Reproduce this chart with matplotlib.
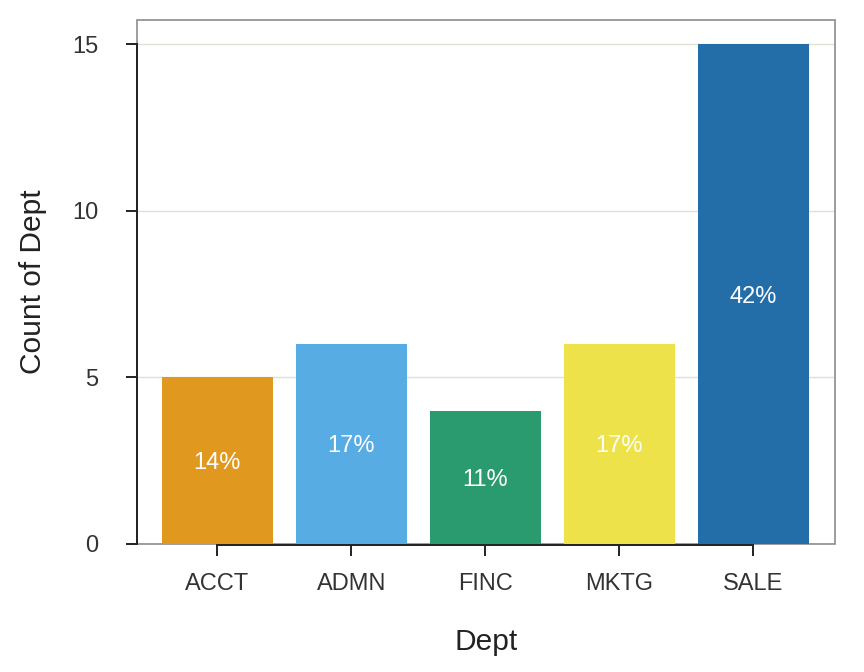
import matplotlib.pyplot as plt
from matplotlib.patches import Rectangle

depts = ["ACCT", "ADMN", "FINC", "MKTG", "SALE"]
counts = [5, 6, 4, 6, 15]
bar_colors = ["#E0981F", "#58ACE4", "#2A9A6F", "#EDE24A", "#236DA9"]

plt.rcParams['font.family'] = ['Liberation Sans', 'DejaVu Sans']

fig = plt.figure(figsize=(8.64, 6.72), dpi=100)
ax = fig.add_axes([0.1586, 0.1905, 0.8078, 0.7797])

x = range(len(depts))
ax.bar(x, counts, width=0.83, color=bar_colors, zorder=2)

total = sum(counts)
for i, c in enumerate(counts):
    ax.text(i, c / 2, "%d%%" % round(100 * c / total), color="white",
            ha="center", va="center_baseline", fontsize=17, zorder=3)

ax.set_xlim(-0.6, 4.61)
ax.set_ylim(0, 15.72)
ax.set_yticks([0, 5, 10, 15])
ax.set_xticks(list(x))
ax.set_xticklabels(depts)

# grid lines
ax.yaxis.grid(True, color="#e0e0d4", linewidth=1, zorder=0)
ax.set_axisbelow(True)

# gray panel frame
ax.add_patch(Rectangle((0, 0), 1, 1, transform=ax.transAxes, fill=False,
                       edgecolor="#8c8c8c", linewidth=1.2, zorder=1,
                       clip_on=False))

for s in ["top", "right"]:
    ax.spines[s].set_visible(False)
for s in ["left", "bottom"]:
    ax.spines[s].set_color("#222222")
    ax.spines[s].set_linewidth(1.4)
ax.spines["left"].set_bounds(0, 15)
ax.spines["bottom"].set_bounds(0, 4)
ax.spines["bottom"].set_position(("outward", 1))

ax.tick_params(axis="both", direction="out", length=8, width=1.4,
               color="#222222", labelcolor="#333333", labelsize=17)
ax.tick_params(axis="x", pad=12)
ax.tick_params(axis="y", pad=20)

ax.set_xlabel("Dept", fontsize=21.5, color="#222222", labelpad=24)
ax.set_ylabel("Count of Dept", fontsize=21.5, color="#222222", labelpad=18)

plt.savefig("out.png", dpi=100)
